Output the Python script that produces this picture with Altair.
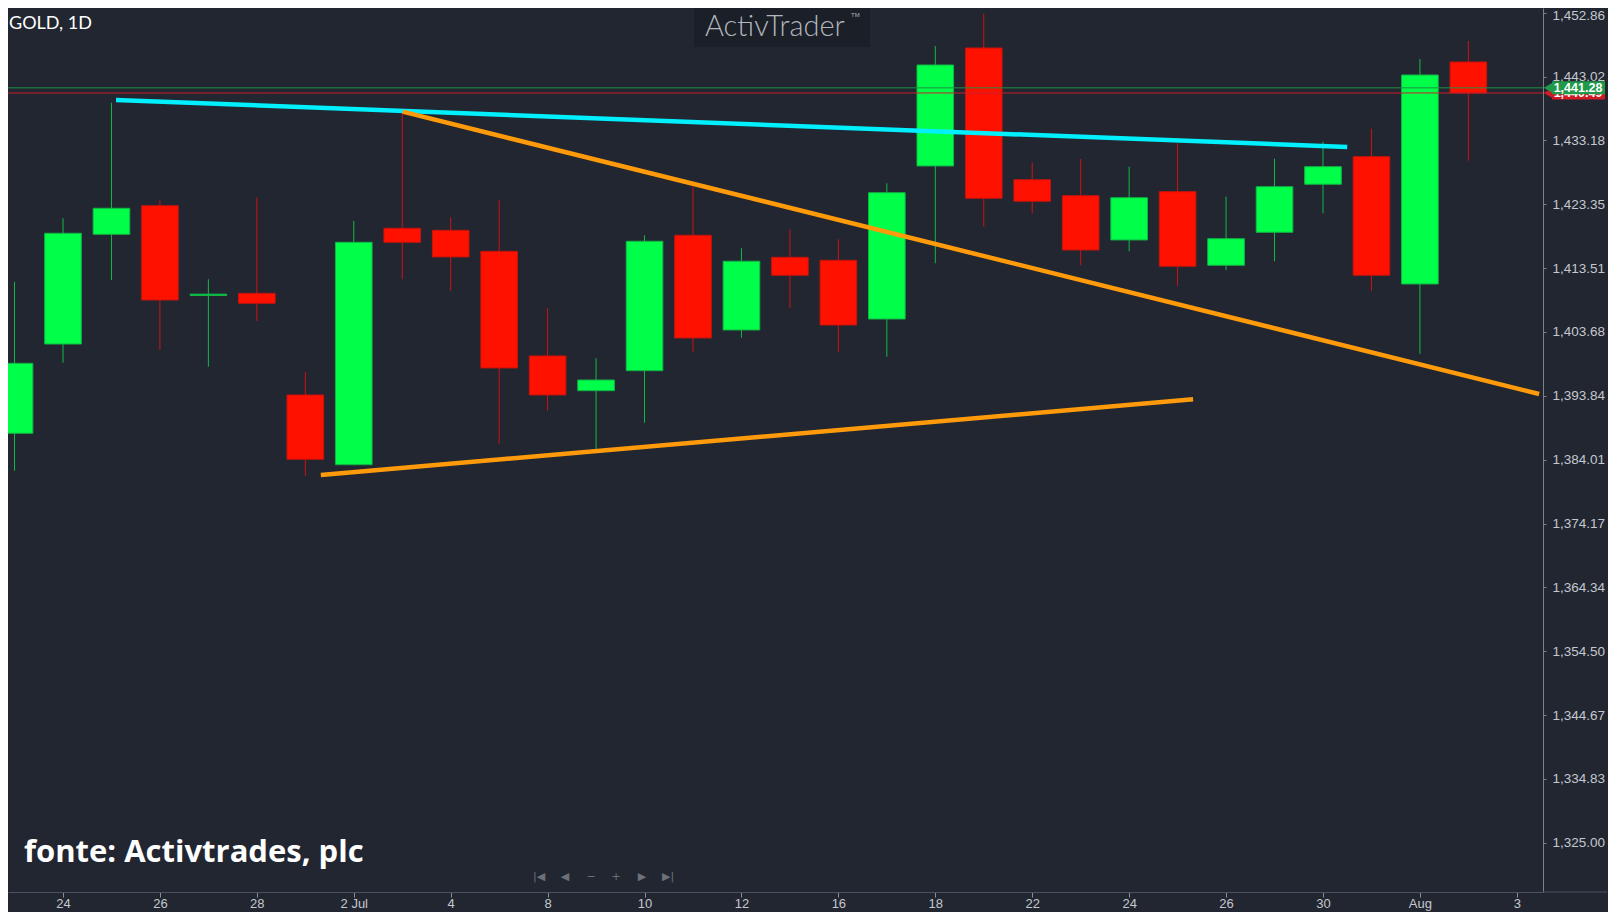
import altair as alt
import pandas as pd

# ---------------- data ----------------
bar_index = list(range(-1, 30))
bar_date = ["21 Jun", "24 Jun", "25 Jun", "26 Jun", "27 Jun", "28 Jun", "1 Jul", "2 Jul", "3 Jul",
            "4 Jul", "5 Jul", "8 Jul", "9 Jul", "10 Jul", "11 Jul", "12 Jul", "15 Jul", "16 Jul",
            "17 Jul", "18 Jul", "19 Jul", "22 Jul", "23 Jul", "24 Jul", "25 Jul", "26 Jul", "29 Jul",
            "30 Jul", "31 Jul", "1 Aug", "2 Aug"]
open_ = [1388.07, 1401.82, 1418.72, 1423.13, 1409.30, 1409.63, 1393.97, 1383.23, 1419.65, 1419.34,
         1416.10, 1399.98, 1394.63, 1397.71, 1418.57, 1403.98, 1415.18, 1414.72, 1405.67, 1429.25,
         1447.42, 1427.13, 1424.67, 1417.85, 1425.29, 1413.95, 1419.03, 1426.43, 1430.68, 1411.07,
         1445.27]
high = [1411.42, 1421.19, 1439.00, 1423.96, 1411.79, 1424.36, 1397.51, 1420.77, 1437.61, 1421.34,
        1423.96, 1407.33, 1399.62, 1418.57, 1426.06, 1416.57, 1419.50, 1417.95, 1426.58, 1447.73,
        1452.66, 1429.75, 1430.32, 1429.14, 1432.74, 1424.52, 1430.37, 1432.99, 1434.99, 1445.73,
        1448.50]
low = [1382.31, 1398.94, 1411.68, 1400.90, 1398.33, 1405.37, 1381.54, 1383.14, 1411.79, 1409.99,
       1386.47, 1391.55, 1385.65, 1389.70, 1400.64, 1402.80, 1407.37, 1400.64, 1399.87, 1414.26,
       1419.90, 1421.96, 1413.95, 1416.10, 1410.76, 1413.22, 1414.57, 1421.96, 1409.99, 1400.29,
       1430.06]
close = [1398.85, 1418.88, 1422.73, 1408.60, 1409.50, 1408.09, 1384.06, 1417.49, 1417.49, 1415.23,
         1398.13, 1393.97, 1396.28, 1417.65, 1402.75, 1414.57, 1412.41, 1404.75, 1425.13, 1444.80,
         1424.27, 1423.81, 1416.30, 1424.36, 1413.79, 1418.05, 1426.06, 1429.14, 1412.41, 1443.26,
         1440.49]

x_tick_index = list(range(0, 31, 2))
x_tick_labels = ["24", "26", "28", "2 Jul", "4", "8", "10", "12", "16", "18", "22", "24", "26",
                 "30", "Aug", "3"]
y_tick_values = [1325.00, 1334.83, 1344.67, 1354.50, 1364.34, 1374.17, 1384.01, 1393.84,
                 1403.68, 1413.51, 1423.35, 1433.18, 1443.02, 1452.86]

cyan_index = [1.094, 26.50]
cyan_price = [1439.41, 1432.17]
down_index = [7.01, 30.46]
down_price = [1437.61, 1394.12]
up_index = [5.32, 23.32]
up_price = [1381.64, 1393.31]

bid_price, bid_label = 1440.49, "1,440.49"
ask_price, ask_label = 1441.28, "1,441.28"

# ---------------- styling ----------------
BG = "#212631"
UP, DOWN = "#00ff48", "#ff1100"
UP_EDGE, DOWN_EDGE = "#12b446", "#c4140c"
UP_WICK, DOWN_WICK = "#14b848", "#d01212"
AXIS_TXT = "#c5c8ce"
W, H = 1535, 884

candles = pd.DataFrame({"i": bar_index, "date": bar_date, "open": open_, "high": high,
                        "low": low, "close": close})

xs = alt.Scale(domain=[-1.135, 30.54], nice=False, zero=False)
ys = alt.Scale(domain=[1317.41, 1453.58], nice=False, zero=False)

x_axis = alt.Axis(values=x_tick_index,
                  labelExpr="[" + ",".join("'%s'" % s for s in x_tick_labels) + "][round(datum.value/2)]",
                  orient="bottom", title=None, grid=False, domainColor="#4a5161", tickColor="#8b9099",
                  tickSize=5, labelPadding=0, labelColor=AXIS_TXT, labelFontSize=13,
                  labelFont="Liberation Sans", labelFlush=False, labelOverlap=False)
y_axis = alt.Axis(values=y_tick_values, format=",.2f", orient="right", title=None, grid=False,
                  domainColor="#7c818b", tickColor="#7c818b", tickSize=3, labelPadding=6,
                  labelColor=AXIS_TXT, labelFontSize=13.5, labelFont="Liberation Sans",
                  labelFlush=False, labelOverlap=False,
                  labelOffset={"condition": {"test": "datum.value > 1450", "value": 3}, "value": 0})


def X(field):
    return alt.X(field, scale=xs, axis=x_axis)


def Y(field):
    return alt.Y(field, scale=ys, axis=y_axis)


is_up = "datum.close >= datum.open"

wicks = alt.Chart(candles).mark_rule(strokeWidth=1, clip=True).encode(
    x=X("i:Q"), y=Y("low:Q"), y2="high:Q",
    color=alt.condition(is_up, alt.value(UP_WICK), alt.value(DOWN_WICK)),
)

bodies = alt.Chart(candles).transform_calculate(
    xl="datum.i - 0.378", xr="datum.i + 0.378"
).mark_rect(strokeWidth=1, clip=True).encode(
    x=X("xl:Q"), x2="xr:Q", y=Y("open:Q"), y2="close:Q",
    fill=alt.condition(is_up, alt.value(UP), alt.value(DOWN)),
    stroke=alt.condition(is_up, alt.value(UP_EDGE), alt.value(DOWN_EDGE)),
    tooltip=["date:N", "open:Q", "high:Q", "low:Q", "close:Q"],
)


def hline(price, color):
    return alt.Chart(pd.DataFrame({"price": [price]})).mark_rule(
        strokeWidth=1, clip=True, color=color).encode(y=Y("price:Q"))


def trend_line(idx, prices, color):
    return alt.Chart(pd.DataFrame({"i": idx, "price": prices})).mark_line(
        strokeWidth=4.5, clip=True, color=color).encode(x=X("i:Q"), y=Y("price:Q"))


def tag(price, label, color):
    d = pd.DataFrame({"price": [price], "label": [label]})
    base = alt.Chart(d)
    box = base.transform_calculate(top="datum.price + 1.0", bot="datum.price - 1.0").mark_rect(
        color=color).encode(x=alt.value(W + 9), x2=alt.value(W + 62), y=Y("top:Q"), y2="bot:Q")
    tip = base.mark_point(shape="triangle-left", filled=True, size=150, opacity=1,
                          color=color).encode(x=alt.value(W + 6), y=Y("price:Q"))
    txt = base.mark_text(font="Liberation Sans", fontSize=12.5, fontWeight="bold", color="white",
                         align="center", baseline="middle").encode(
        x=alt.value(W + 35), y=Y("price:Q"), text="label:N")
    return [box, tip, txt]


def label(text, x, y, **kw):
    return alt.Chart(pd.DataFrame({"t": [text]})).mark_text(**kw).encode(
        x=alt.value(x), y=alt.value(y), text="t:N")


one = pd.DataFrame({"k": [0]})
wm_box = alt.Chart(one).mark_rect(color="#1b1f28").encode(
    x=alt.value(686), x2=alt.value(862), y=alt.value(0), y2=alt.value(39))
wm_text = label("ActivTrader", 697, 28, font="Lato", fontSize=29, fontWeight=300, color="#b2b6bd",
                align="left", baseline="alphabetic")
wm_tm = label("TM", 843, 7, font="Liberation Sans", fontSize=6, color="#b2b6bd", align="left",
              baseline="middle")
title_txt = label("GOLD, 1D", 1, 21, font="Lato", fontSize=18, color="#ffffff", align="left",
                  baseline="alphabetic")
source_txt = label("fonte: Activtrades, plc", 16, 854, font="Open Sans", fontSize=31,
                   fontWeight="bold", color="#ffffff", align="left", baseline="alphabetic")

nav_glyphs = ["|◀", "◀", "−", "+", "▶", "▶|"]
nav_x = [531, 557, 583, 608, 634, 660]
nav = [label(g, px, 869, font="DejaVu Sans", fontSize=11, color="#6b7079", align="center",
             baseline="middle") for g, px in zip(nav_glyphs, nav_x)]

axis_ext = alt.Chart(one).mark_rule(color="#4a5161", strokeWidth=1).encode(
    x=alt.value(W), x2=alt.value(W + 64), y=alt.value(H))

layers = [wm_box, wm_text, wm_tm, wicks, bodies,
          hline(ask_price, "#1f8f45"), hline(bid_price, "#c8202c"),
          trend_line(cyan_index, cyan_price, "#00f0ff"),
          trend_line(down_index, down_price, "#ff9a0a"),
          trend_line(up_index, up_price, "#ff9a0a")]
layers += tag(bid_price, bid_label, "#d01a26")
layers += tag(ask_price, ask_label, "#1e9a4a")
layers += [title_txt, source_txt] + nav + [axis_ext]

chart = alt.layer(*layers).properties(
    width=W, height=H, background=BG,
    autosize=alt.AutoSizeParams(type="none"),
    padding={"left": 0, "top": 0, "right": 65, "bottom": 20},
).configure_view(stroke=None)

chart.save("out.html", embed_options={"renderer": "svg", "actions": False})
